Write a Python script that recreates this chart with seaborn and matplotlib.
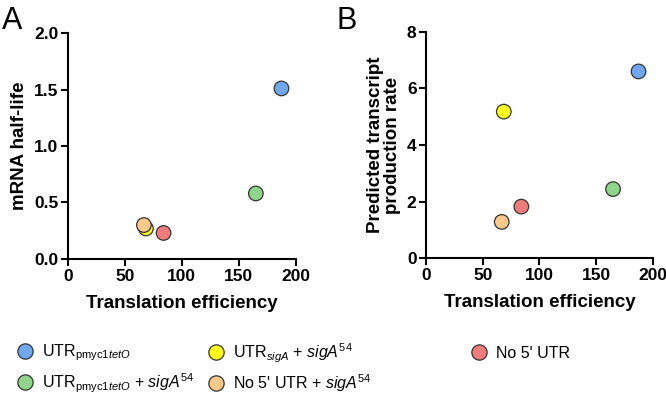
import numpy as np
import pandas as pd
import matplotlib
matplotlib.use("Agg")
import matplotlib.pyplot as plt
import seaborn as sns
from matplotlib.lines import Line2D

# dati
construct = ["pmyc1", "sigA", "no5", "pmyc1_sig", "no5_sig"]
labels = [r"UTR$_{\mathrm{pmyc1}\mathit{tetO}}$",
          r"UTR$_{\mathit{sigA}}$ + $\mathit{sigA}^{\mathit{54}}$",
          r"No 5' UTR",
          r"UTR$_{\mathrm{pmyc1}\mathit{tetO}}$ + $\mathit{sigA}^{54}$",
          r"No 5' UTR + $\mathit{sigA}^{54}$"]
colors = ["#6fa8ef", "#ffff1a", "#f27b7b", "#8fd68a", "#fcc98b"]
te = [187.5, 68.5, 84, 165, 66.7]
half_life = [1.51, 0.27, 0.23, 0.58, 0.30]
prod_rate = [6.6, 5.18, 1.82, 2.44, 1.28]

df = pd.DataFrame({"construct": construct, "te": te,
                   "half_life": half_life, "prod_rate": prod_rate})
pal = dict(zip(construct, colors))

sns.set_style("ticks")
plt.rcParams['font.family'] = ['Liberation Sans', 'DejaVu Sans']
plt.rcParams['mathtext.fontset'] = 'custom'
plt.rcParams['mathtext.rm'] = 'Liberation Sans'
plt.rcParams['mathtext.it'] = 'Liberation Sans:italic'
plt.rcParams['text.color'] = 'black'
plt.rcParams['axes.labelcolor'] = 'black'
plt.rcParams['xtick.color'] = 'black'
plt.rcParams['ytick.color'] = 'black'

fig = plt.figure(figsize=(6.66, 4.19), dpi=100)
axA = fig.add_axes([0.102, 0.382, 0.342, 0.539])
axB = fig.add_axes([0.640, 0.384, 0.340, 0.540])

for ax, col, ylim, yticks, ylab in [
        (axA, "half_life", (0, 2), [0, 0.5, 1.0, 1.5, 2.0], "mRNA half-life"),
        (axB, "prod_rate", (0, 8), [0, 2, 4, 6, 8], "Predicted transcript\nproduction rate")]:
    sns.scatterplot(data=df, x="te", y=col, hue="construct", palette=pal,
                    s=110, edgecolor="#333333", linewidth=0.9, legend=False,
                    ax=ax, zorder=3, clip_on=False)
    ax.set_xlim(0, 200)
    ax.set_ylim(*ylim)
    ax.set_xticks([0, 50, 100, 150, 200])
    ax.set_yticks(yticks)
    if col == "half_life":
        ax.set_yticklabels(["0.0", "0.5", "1.0", "1.5", "2.0"])
    ax.set_xlabel("Translation efficiency", fontsize=13.5, fontweight="bold", labelpad=8)
    ax.set_ylabel(ylab, fontsize=13.5, fontweight="bold", labelpad=4, linespacing=1.0)
    for lab in ax.get_xticklabels() + ax.get_yticklabels():
        lab.set_fontweight("bold")
        lab.set_fontsize(12.5)
    ax.tick_params(width=1.5, length=5, color="black", pad=2)
    for sp in ["left", "bottom"]:
        ax.spines[sp].set_linewidth(1.5)
        ax.spines[sp].set_color("black")
    sns.despine(ax=ax)

fig.text(0.003, 0.985, "A", fontsize=22, va="top", ha="left")
fig.text(0.505, 0.985, "B", fontsize=22, va="top", ha="left")

# legenda: una voce per volta, posizionata come nel riferimento
leg_pos = [(0.0255, 0.1575), (0.312, 0.1575), (0.707, 0.1575),
           (0.0255, 0.086), (0.312, 0.086)]
for c, lab, (lx, ly) in zip(colors, labels, leg_pos):
    h = Line2D([], [], marker="o", linestyle="", markersize=11,
               markerfacecolor=c, markeredgecolor="#333333", markeredgewidth=0.9)
    fig.legend([h], [lab], loc="center left", bbox_to_anchor=(lx, ly),
               frameon=False, fontsize=11.5, handlelength=1.0,
               handletextpad=0.55, borderpad=0, borderaxespad=0)

fig.savefig("out.png", dpi=100)
